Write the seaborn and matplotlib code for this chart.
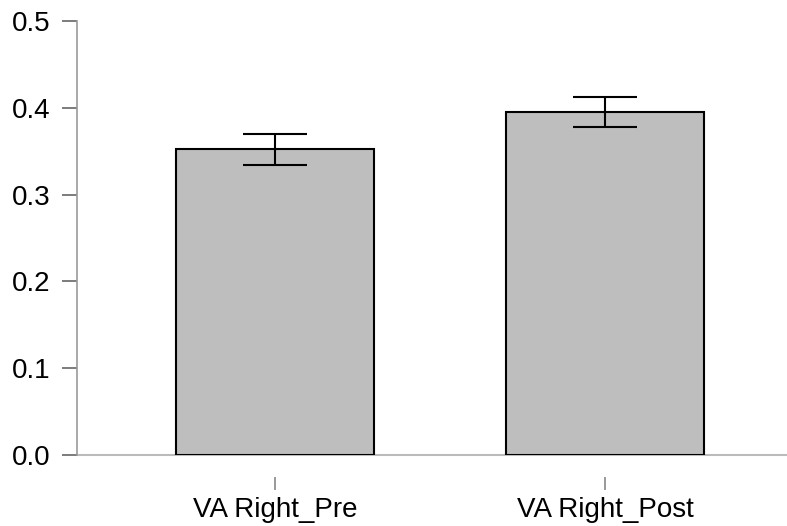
import pandas as pd
import seaborn as sns
import matplotlib
matplotlib.use("Agg")
import matplotlib.pyplot as plt

conditions = ["VA Right_Pre", "VA Right_Post"]
means = [0.352, 0.395]
errors = [0.018, 0.017]
y_ticks = [0.0, 0.1, 0.2, 0.3, 0.4, 0.5]

df = pd.DataFrame({"condition": conditions, "mean": means})

sns.set_style("white")
plt.rcParams["font.family"] = ["Liberation Sans", "DejaVu Sans"]

fig = plt.figure(figsize=(7.87, 5.26), dpi=100)
ax = fig.add_axes([77 / 787, 71 / 526, 710 / 787, 434 / 526])

sns.barplot(data=df, x="condition", y="mean", color="#bebebe", width=0.6,
            edgecolor="black", linewidth=1.5, errorbar=None, saturation=1, ax=ax)
ax.errorbar(range(len(conditions)), means, yerr=errors, fmt="none",
            ecolor="black", elinewidth=1.5, capsize=23, capthick=1.5)

ax.set_xlim(-0.6, 1.55)
ax.set_ylim(0, 0.5)
ax.set_yticks(y_ticks)
ax.set_yticklabels([f"{t:.1f}" for t in y_ticks])
ax.set_xlabel("")
ax.set_ylabel("")

for side in ["top", "right"]:
    ax.spines[side].set_visible(False)
ax.spines["left"].set_color("#999999")
ax.spines["left"].set_linewidth(1.2)
# x ticks sit detached below the baseline
ax.spines["bottom"].set_position(("outward", 15.5))
ax.spines["bottom"].set_visible(False)
ax.axhline(0, color="#bbbbbb", linewidth=1.5, clip_on=False, zorder=0)

ax.tick_params(axis="y", length=11, width=1.2, color="#666666", pad=8,
               labelsize=20, labelcolor="black", left=True)
ax.tick_params(axis="x", length=9.5, width=1.2, color="#888888", pad=5,
               labelsize=20, labelcolor="black", bottom=True)

fig.savefig("out.png", dpi=100)
